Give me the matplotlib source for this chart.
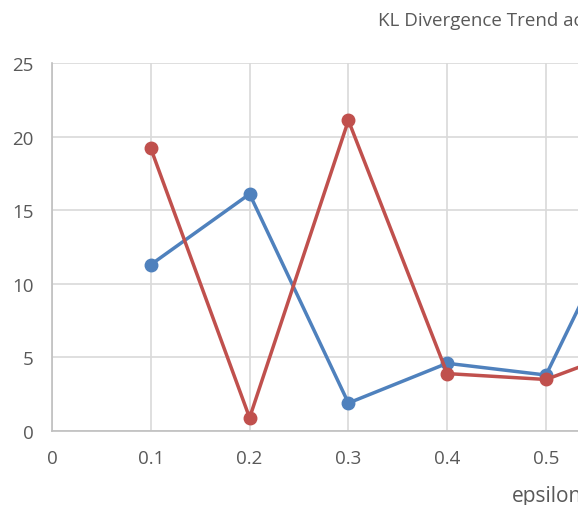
import matplotlib
matplotlib.use("Agg")
import matplotlib.pyplot as plt

# valeurs (le point 0.6 est estimé depuis la pente qui sort du cadre)
epsilon = [0.1, 0.2, 0.3, 0.4, 0.5, 0.6]
kl_blue = [11.3, 16.1, 1.9, 4.6, 3.8, 17.6]
kl_red = [19.2, 0.9, 21.1, 3.9, 3.5, 6.0]
x_ticks = [0, 0.1, 0.2, 0.3, 0.4, 0.5]
y_ticks = [0, 5, 10, 15, 20, 25]

W, H = 578, 506
x_max = 0.7
px_per_unit = 988  # pixels par unité d'epsilon

plt.rcParams['font.family'] = ['Open Sans', 'DejaVu Sans']
gris = '#595959'

fig = plt.figure(figsize=(W / 100, H / 100), dpi=100)
ax = fig.add_axes([52 / W, (H - 432) / H, x_max * px_per_unit / W, 368 / H])

ax.plot(epsilon, kl_blue, color='#4F81BD', lw=2.5, marker='o', ms=9, zorder=3)
ax.plot(epsilon, kl_red, color='#C0504D', lw=2.5, marker='o', ms=9, zorder=3)

ax.set_xlim(0, x_max)
ax.set_ylim(0, 25)
ax.set_xticks([0, 0.1, 0.2, 0.3, 0.4, 0.5, 0.6, 0.7])
ax.set_xticklabels([str(v) for v in x_ticks] + ['', ''])
ax.set_yticks(y_ticks)
ax.grid(True, color='#D9D9D9', lw=1.2)
ax.set_axisbelow(True)
for s in ['top', 'right']:
    ax.spines[s].set_visible(False)
for s in ['left', 'bottom']:
    ax.spines[s].set_color('#BFBFBF')
    ax.spines[s].set_linewidth(1.2)
ax.tick_params(length=0, labelsize=13.5, labelcolor=gris)
ax.tick_params(axis='x', pad=13)
ax.tick_params(axis='y', pad=13)

fig.text(378 / W, 1 - 21 / H, 'KL Divergence Trend across epsilon', fontsize=13.5,
         color=gris, ha='left', va='center')
fig.text(512 / W, 1 - 497 / H, 'epsilon', fontsize=15, color=gris,
         ha='left', va='center')

fig.savefig('out.png', dpi=100)
